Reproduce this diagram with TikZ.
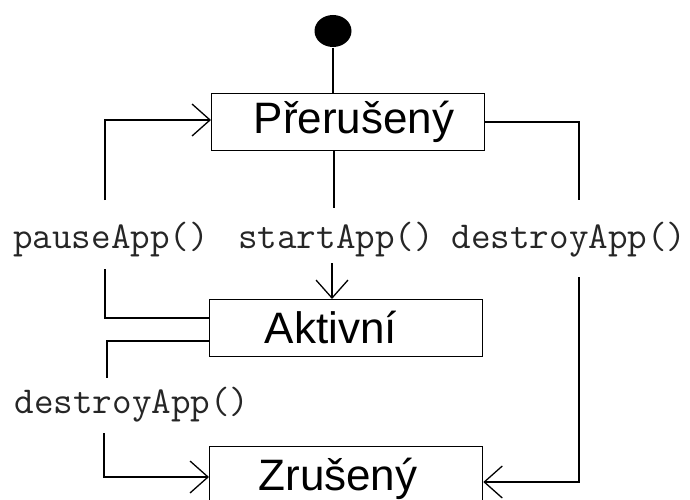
\documentclass[tikz,border=0pt]{standalone}
\usepackage{fontspec}
\setmainfont{Liberation Sans}
\usetikzlibrary{arrows.meta,shapes.geometric}
\begin{document}
\begin{tikzpicture}[x=1pt,y=-1pt,line width=1.3pt,
  statebox/.style={draw, line width=1.3pt, inner sep=0pt, anchor=north west},
  statetext/.style={inner sep=0pt, font=\fontsize{44}{50}\selectfont},
  calltext/.style={inner sep=0pt, text=black!85, font=\ttfamily\fontsize{38}{42}\selectfont},
  arr/.style={-{Straight Barb[length=18pt,width=32pt,line width=1.3pt]}}]
\clip (0,0) rectangle (690,500);
\fill[white] (0,0) rectangle (690,500);
% initial state
\node[fill=black, ellipse, minimum width=37pt, minimum height=32pt, inner sep=0pt] (init) at (333,31) {};
% states
\node[statebox, minimum width=273pt, minimum height=57pt] (p) at (211,93) {};
\node[statetext] (pt) at (354,122) {Přerušený};
\node[statebox, minimum width=273pt, minimum height=57pt] (a) at (209,299) {};
\node[statetext] (at) at (331,327) {Aktivní};
\node[statebox, minimum width=273pt, minimum height=80pt] (z) at (209,446) {};
\node[statetext] (zt) at (338,479) {Zrušený};
% labels
\node[calltext] (l1) at (111,240) {pauseApp()};
\node[calltext] (l2) at (336,240) {startApp()};
\node[calltext] (l3) at (569,240) {destroyApp()};
\node[calltext] (l4) at (132,405) {destroyApp()};
% coordinates for bends and gaps
\coordinate (c1a) at (105,269);
\coordinate (c1b) at (105,200);
\coordinate (c2a) at (334,208);
\coordinate (c2b) at (332,263);
\coordinate (c3a) at (579,200);
\coordinate (c3b) at (579,277);
\coordinate (c4a) at (107,378);
\coordinate (c4b) at (104,433);
% connectors
\draw (init) -- (init |- p.north);
\draw (a.west |- 0,318) -| (c1a);
\draw[arr] (c1b) |- (p.west |- 0,120);
\draw (p.south -| c2a) -- (c2a);
\draw[arr] (c2b) -- (c2b |- a.north);
\draw (p.east |- 0,122) -| (c3a);
\draw[arr] (c3b) |- (z.east |- 0,482);
\draw (a.west |- 0,341) -| (c4a);
\draw[arr] (c4b) |- (z.west |- 0,477);
\end{tikzpicture}
\end{document}
